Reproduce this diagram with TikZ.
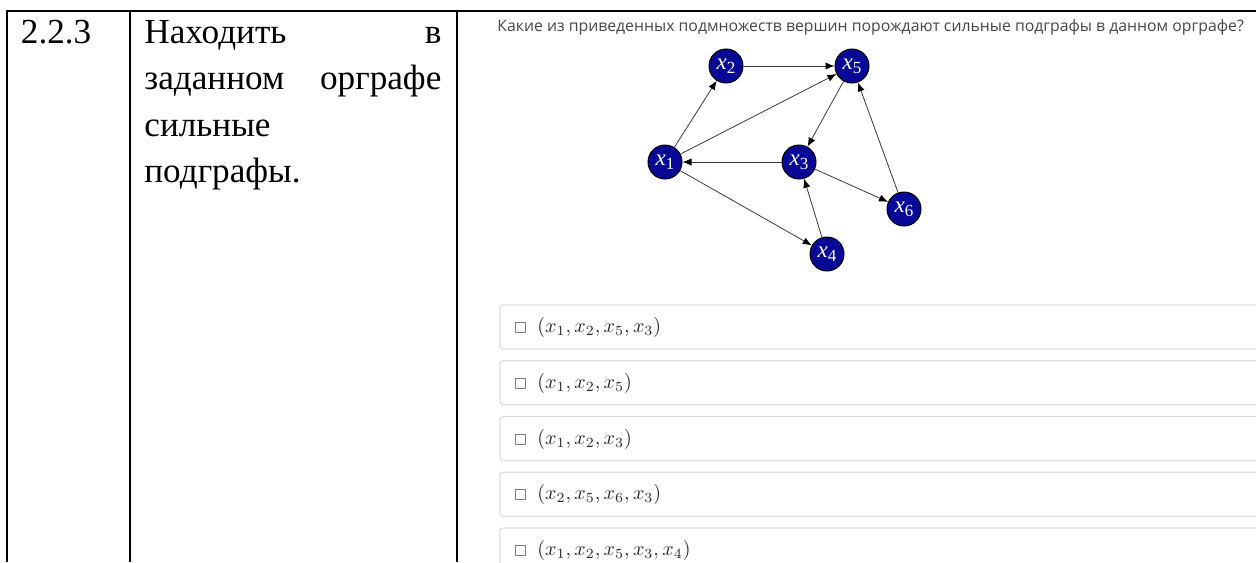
\documentclass[tikz,border=0pt]{standalone}
\usepackage[no-math]{fontspec}
\setmainfont{Liberation Serif}
\newfontfamily\opensans{Open Sans}
\usetikzlibrary{arrows.meta}
\definecolor{vertexblue}{RGB}{8,8,150}
\definecolor{edgegray}{RGB}{60,60,60}
\definecolor{boxgray}{RGB}{222,222,222}
\definecolor{textgray}{RGB}{40,40,40}
\definecolor{questiongray}{RGB}{70,70,70}
\newcommand*{\vx}[1]{\textit{x}\raisebox{-0.4ex}{\fontsize{8.5}{8.5}\selectfont #1}}

\begin{document}
\begin{tikzpicture}[x=0.5pt,y=-0.5pt]
\tikzset{
  rule/.style={line width=1pt,black},
  celltext/.style={inner sep=0pt,font=\fontsize{17.6}{23}\selectfont},
  vertex/.style={circle,draw=black,line width=0.5pt,fill=vertexblue,text=white,
    minimum size=17pt,inner sep=0pt,font=\fontsize{11.5}{11.5}\selectfont},
  edge/.style={edgegray,line width=0.4pt,-{Latex[length=4.5pt,width=3.6pt,black]}},
  answerbox/.style={draw=boxgray,line width=0.6pt,rounded corners=1.5pt},
  checkbox/.style={draw=gray,line width=0.5pt},
  answer/.style={anchor=west,inner sep=0pt,text=textgray,font=\fontsize{10.2}{12}\selectfont}
}
    \useasboundingbox (0,0) rectangle (1256,562);

    % table of the plan
    \draw[rule] (7,562) -- (7,10.7) -- (1262,10.7);
    \draw[rule] (129.5,10.7) -- (129.5,562);
    \draw[rule] (456.5,10.7) -- (456.5,562);

    \node[celltext,anchor=base west] (num) at (20.5,43) {2.2.3};
    \node[celltext,anchor=base west] (goal1) at (144,43) {\hbox to 148.5pt{Находить\hfill в}};
    \node[celltext,anchor=base west] (goal2) at (144,89.5) {\hbox to 148.5pt{заданном\hfill орграфе}};
    \node[celltext,anchor=base west] (goal3) at (144,136) {сильные};
    \node[celltext,anchor=base west] (goal4) at (144,182.5) {подграфы.};

    \node[anchor=base west,inner sep=0pt,text=questiongray,font=\opensans\fontsize{7.9}{10}\selectfont]
      (question) at (497,31) {Какие из приведенных подмножеств вершин порождают сильные подграфы в данном орграфе?};

    % the digraph
    \node[vertex] (x1) at (665,162) {\vx1};
    \node[vertex] (x2) at (726,66) {\vx2};
    \node[vertex] (x5) at (852,66) {\vx5};
    \node[vertex] (x3) at (799,162) {\vx3};
    \node[vertex] (x6) at (904,209) {\vx6};
    \node[vertex] (x4) at (827,254) {\vx4};

    \foreach \a/\b in {x1/x2,x2/x5,x1/x5,x5/x3,x3/x1,x3/x6,x6/x5,x4/x3,x1/x4}
      \draw[edge] (\a) -- (\b);

    % answers
    \foreach \txt [count=\i from 0] in {{$(x_1,x_2,x_5,x_3)$},{$(x_1,x_2,x_5)$},{$(x_1,x_2,x_3)$},
        {$(x_2,x_5,x_6,x_3)$},{$(x_1,x_2,x_5,x_3,x_4)$}}{
      \pgfmathsetmacro\ytop{305+55.75*\i}
      \pgfmathsetmacro\ymid{\ytop+22.5}
      \draw[answerbox] (500,\ytop) rectangle (1270,\ytop+44);
      \draw[checkbox] (515,\ymid-5) rectangle (525,\ymid+5);
      \node[answer] (opt\i) at (537,\ymid) {\txt};
    }
\end{tikzpicture}
\end{document}
